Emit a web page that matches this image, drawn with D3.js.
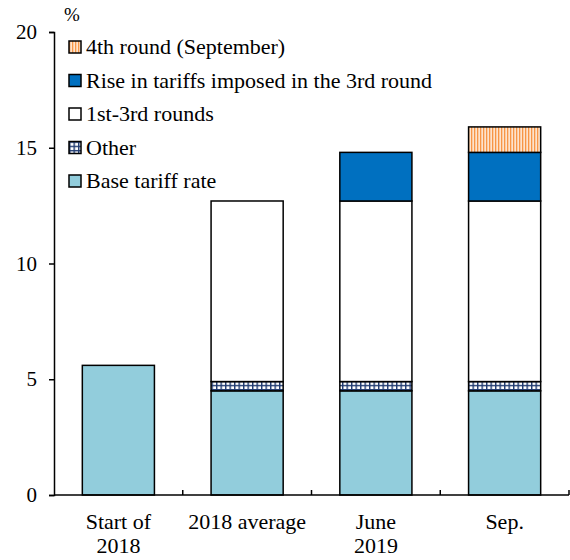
<!DOCTYPE html>
<meta charset="utf-8">
<style>
body { margin: 0; background: #fff; }
text { font-family: "Liberation Serif", "Times New Roman", serif; fill: #000; }
</style>
<body>
<script src="https://d3js.org/d3.v7.min.js"></script>
<script>

// data (%)
var categories = ["Start of\n2018", "2018 average", "June\n2019", "Sep."];
var baseRate   = [5.6, 4.5, 4.5, 4.5];
var other      = [0, 0.4, 0.4, 0.4];
var rounds13   = [0, 7.8, 7.8, 7.8];
var rise3rd    = [0, 0, 2.1, 2.1];
var round4     = [0, 0, 0, 1.1];
var yTicks     = [0, 5, 10, 15, 20];
var legendLabels = ["4th round (September)", "Rise in tariffs imposed in the 3rd round",
                    "1st-3rd rounds", "Other", "Base tariff rate"];

var W = 570, H = 560;
var margin = {top: 32, right: 1, bottom: 65, left: 54};
var width = W - margin.left - margin.right,
    height = H - margin.top - margin.bottom;

var svg = d3.select("body").append("svg")
  .attr("width", W).attr("height", H);

// patterns
var defs = svg.append("defs");
var hatch = defs.append("pattern").attr("id", "grid")
  .attr("patternUnits", "userSpaceOnUse").attr("width", 4.5).attr("height", 4.2);
hatch.append("rect").attr("width", 4.5).attr("height", 4.2).attr("fill", "#fff");
hatch.append("rect").attr("width", 1.4).attr("height", 4.2).attr("fill", "#1f3a70");
hatch.append("rect").attr("width", 4.5).attr("height", 1.4).attr("fill", "#1f3a70");

var stripes = defs.append("pattern").attr("id", "stripes")
  .attr("patternUnits", "userSpaceOnUse").attr("width", 3).attr("height", 3);
stripes.append("rect").attr("width", 3).attr("height", 3).attr("fill", "#fde3cc");
stripes.append("rect").attr("width", 1.3).attr("height", 3).attr("fill", "#f79646");

var series = [
  {key: "base",   vals: baseRate, fill: "#92cddc"},
  {key: "other",  vals: other,    fill: "url(#grid)"},
  {key: "r13",    vals: rounds13, fill: "#ffffff"},
  {key: "rise",   vals: rise3rd,  fill: "#0070c0"},
  {key: "r4",     vals: round4,   fill: "url(#stripes)"}
];

var g = svg.append("g")
  .attr("transform", "translate(" + margin.left + "," + margin.top + ")");

var x = d3.scaleBand().domain(categories).range([0, width])
  .paddingInner(0.44).paddingOuter(0.22);
var y = d3.scaleLinear().domain([0, 20]).range([height, 0]);

// stacked bars
var rows = categories.map(function(c, i) {
  var r = {cat: c};
  series.forEach(function(s) { r[s.key] = s.vals[i]; });
  return r;
});
var stack = d3.stack().keys(series.map(function(s) { return s.key; }));
var layers = stack(rows);

g.selectAll(".layer").data(layers).enter().append("g")
  .attr("fill", function(d, i) { return series[i].fill; })
  .selectAll("rect").data(function(d) { return d.filter(function(p) { return p[1] - p[0] > 0; }); })
  .enter().append("rect")
  .attr("x", function(d) { return x(d.data.cat); })
  .attr("width", x.bandwidth())
  .attr("y", function(d) { return y(d[1]); })
  .attr("height", function(d) { return y(d[0]) - y(d[1]); })
  .attr("stroke", "#000").attr("stroke-width", 1.5);

// y axis
var yAxis = g.append("g")
  .call(d3.axisLeft(y).tickValues(yTicks).tickSize(5).tickPadding(12));
yAxis.select(".domain").attr("stroke-width", 1.5);
yAxis.selectAll(".tick line").attr("stroke-width", 1.5);
yAxis.selectAll("text").style("font-family", "Liberation Serif").style("font-size", "21px");

// x axis: ticks between categories, pointing up
var xAxis = g.append("g").attr("transform", "translate(0," + height + ")");
xAxis.append("line").attr("x1", 0).attr("x2", width).attr("stroke", "#000").attr("stroke-width", 1.5);
var step = x.step();
categories.forEach(function(c, i) {
  var bx = x(c) + x.bandwidth() / 2 + step / 2;
  xAxis.append("line").attr("x1", bx).attr("x2", bx).attr("y1", 0).attr("y2", -5)
    .attr("stroke", "#000").attr("stroke-width", 1.5);
});
categories.forEach(function(c) {
  var t = xAxis.append("text").attr("text-anchor", "middle")
    .attr("x", x(c) + x.bandwidth() / 2).attr("y", 34).style("font-size", "22px");
  c.split("\n").forEach(function(line, j) {
    t.append("tspan").attr("x", x(c) + x.bandwidth() / 2).attr("dy", j ? 24 : 0).text(line);
  });
});

// unit label
svg.append("text").attr("x", 64).attr("y", 21).style("font-size", "19px").text("%");

// legend
var legendFills = [series[4].fill, series[3].fill, series[2].fill, series[1].fill, series[0].fill];
var lg = svg.append("g").attr("transform", "translate(69,41)");
legendLabels.forEach(function(l, i) {
  var row = lg.append("g").attr("transform", "translate(0," + (i * 33.5) + ")");
  row.append("rect").attr("width", 12).attr("height", 12)
    .attr("fill", legendFills[i]).attr("stroke", "#000").attr("stroke-width", 1.5);
  row.append("text").attr("x", 17).attr("y", 13).style("font-size", "22px").text(l);
});

</script>
</body>
